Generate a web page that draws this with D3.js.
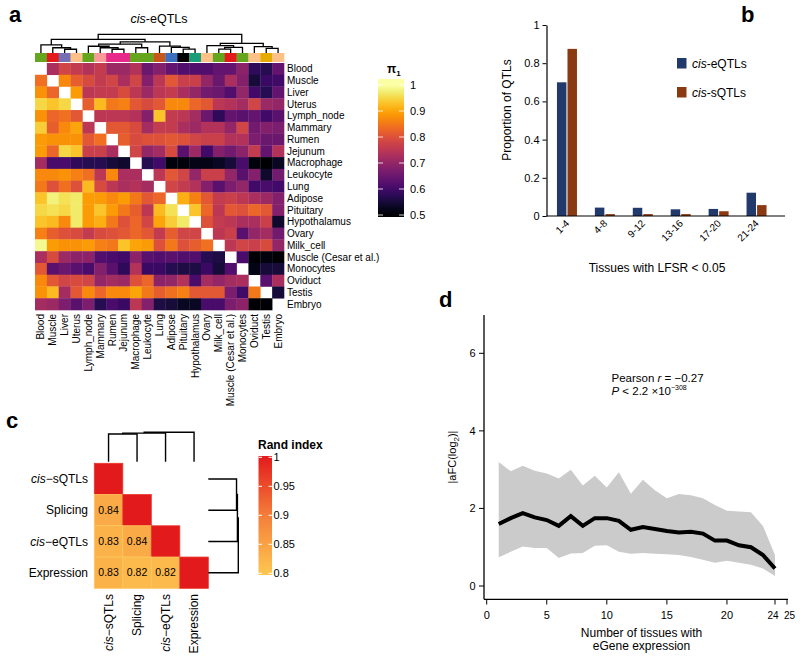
<!DOCTYPE html>
<html><head><meta charset="utf-8">
<script src="https://cdn.jsdelivr.net/npm/d3@7"></script>
<style>body{margin:0;background:#fff}svg{display:block;font-family:"Liberation Sans",Arial,sans-serif}</style>
</head><body>
<svg id="fig" width="800" height="657"></svg>
<script>
// ---------------- DATA ----------------
const tissues = ["Blood","Muscle","Liver","Uterus","Lymph_node","Mammary","Rumen","Jejunum","Macrophage","Leukocyte","Lung","Adipose","Pituitary","Hypothalamus","Ovary","Milk_cell","Muscle (Cesar et al.)","Monocytes","Oviduct","Testis","Embryo"];
const tissueColors = ["#66a61e","#e41a1c","#7570b3","#fdc086","#66a61e","#fb9a99","#e7298a","#e7298a","#66a61e","#66a61e","#c7561a","#3a70bf","#000000","#1b9e77","#fdc086","#66a61e","#e41a1c","#66a61e","#fdc086","#e6ab02","#fdc086"];
const pi1Ticks = [0.5,0.6,0.7,0.8,0.9,1];
const pi1 = [
 [null,.73,.78,.76,.74,.76,.71,.71,.74,.65,.68,.64,.62,.62,.62,.64,.64,.69,.58,.57,.64],
 [.84,null,.87,.82,.79,.76,.78,.73,.78,.68,.75,.81,.77,.77,.70,.65,.73,.68,.55,.59,.60],
 [.88,.83,null,.89,.75,.76,.76,.79,.75,.71,.75,.76,.73,.70,.66,.65,.62,.70,.60,.57,.64],
 [.95,.93,.95,null,.82,.92,.85,.86,.81,.79,.81,.87,.87,.83,.81,.75,.74,.72,.78,.71,.70],
 [.88,.83,.84,.81,null,.75,.75,.75,.74,.68,.93,.76,.75,.72,.65,.58,.64,.63,.64,.60,.63],
 [.94,.82,.87,.90,.75,null,.81,.81,.79,.72,.76,.76,.73,.71,.74,.74,.70,.78,.66,.68,.67],
 [.89,.88,.88,.88,.81,.84,null,.82,.79,.80,.80,.81,.80,.78,.77,.77,.74,.74,.67,.65,.65],
 [.89,.83,.95,.93,.77,.77,.73,null,.78,.70,.72,.79,.63,.71,.60,.68,.66,.69,.76,.64,.74],
 [.72,.61,.61,.58,.57,.57,.55,.54,null,.57,.60,.51,.51,.52,.52,.53,.55,.61,.51,.50,.53],
 [.87,.87,.88,.86,.84,.75,.87,.73,.73,null,.75,.81,.78,.70,.77,.77,.70,.63,.68,.54,.66],
 [.85,.80,.84,.80,.92,.79,.75,.73,.74,.72,null,.78,.76,.74,.68,.63,.67,.70,.60,.61,.60],
 [.93,.98,.96,.97,.89,.89,.87,.89,.85,.81,.83,null,.91,.86,.81,.76,.77,.75,.73,.71,.68],
 [.95,.96,.95,.97,.89,.93,.89,.85,.82,.75,.92,.96,null,.93,.83,.75,.81,.80,.83,.81,.68],
 [.93,.92,.87,.97,.89,.91,.85,.80,.83,.78,.90,.94,.97,null,.80,.76,.75,.73,.73,.77,.54],
 [.86,.82,.80,.79,.76,.79,.80,.81,.83,.81,.76,.82,.78,.78,null,.75,.77,.63,.70,.72,.66],
 [.99,.89,.88,.88,.89,.86,.85,.93,.90,.89,.80,.85,.80,.82,.84,null,.75,.78,.77,.79,.70],
 [.73,.79,.71,.69,.69,.62,.61,.60,.69,.63,.62,.63,.62,.62,.57,.56,null,.61,.50,.51,.50],
 [.81,.63,.65,.63,.61,.68,.63,.58,.74,.59,.59,.57,.56,.56,.59,.55,.62,null,.52,.55,.55],
 [.87,.81,.78,.79,.78,.70,.72,.71,.80,.83,.69,.70,.74,.61,.72,.70,.72,.73,null,.63,.73],
 [.88,.92,.72,.81,.87,.83,.87,.87,.90,.85,.82,.84,.86,.81,.81,.81,.67,.60,.85,null,.55],
 [.72,.71,.67,.63,.67,.57,.61,.59,.75,.68,.56,.55,.53,.53,.61,.61,.67,.69,.50,.50,null]
];
// clustering tree of panel a: [height, left, right], leaves = column index
const treeA = [1.0,
  [0.73, [0.43, 0, [0.28, 1, [0.2, 2, 3]]],
         [0.6, [0.47, [0.36, 4, [0.28, 5, [0.2, 6, 7]]], [0.28, 8, 9]],
               [0.37, 10, [0.3, 11, [0.21, 12, 13]]]]],
  [0.52, [0.39, 14, [0.3, [0.21, 15, 16], 17]], [0.34, 18, [0.25, 19, 20]]]];

const groupsB = ["1-4","4-8","9-12","13-16","17-20","21-24"];
const eqtlB = [0.70, 0.044, 0.043, 0.035, 0.037, 0.122];
const sqtlB = [0.875, 0.010, 0.010, 0.010, 0.025, 0.057];
const yTicksB = [0, 0.2, 0.4, 0.6, 0.8, 1];

const labelsC = ["cis\u2212sQTLs","Splicing","cis\u2212eQTLs","Expression"];
const randC = [[1],[0.84,1],[0.83,0.84,1],[0.83,0.82,0.82,1]];
const randTicks = [0.8,0.85,0.9,0.95,1];
const treeC = [0.17, [0.165, [0.16, 0, 1], 2], 3];

const nTissuesD = [1,2,3,4,5,6,7,8,9,10,11,12,13,14,15,16,17,18,19,20,21,22,23,24];
const meanD  = [1.60,1.75,1.88,1.77,1.70,1.55,1.80,1.55,1.75,1.75,1.68,1.45,1.52,1.47,1.42,1.38,1.40,1.35,1.17,1.17,1.05,1.00,0.80,0.45];
const upperD = [3.20,2.96,3.10,2.97,2.90,2.77,3.00,2.59,2.84,2.54,2.93,2.38,2.74,2.47,2.26,2.37,2.34,2.26,2.09,1.94,1.92,1.90,1.55,0.80];
const lowerD = [0.74,0.88,1.02,0.98,0.98,0.72,0.84,0.85,1.04,1.05,0.88,0.83,0.85,0.83,0.82,0.80,0.75,0.68,0.60,0.65,0.60,0.55,0.45,0.26];
const xTicksD = [0,5,10,15,20,24,25];
const yTicksD = [0,2,4,6];

// ---------------- HELPERS ----------------
const svg = d3.select("#fig");
function cisText(sel, s) {
  if (s.startsWith("cis")) {
    sel.append("tspan").attr("font-style","italic").text("cis");
    sel.append("tspan").text(s.slice(3));
  } else sel.text(s);
}
function drawTree(g, tree, pos, hs, orient, sw) {
  function rec(n) {
    if (typeof n === "number") return {p: pos(n), h: 0};
    const [h, a, b] = n;
    const A = rec(a), B = rec(b);
    const pts = [[A.p, hs(A.h)], [A.p, hs(h)], [B.p, hs(h)], [B.p, hs(B.h)]]
      .map(d => orient === "top" ? d : [d[1], d[0]]);
    g.append("path").attr("d", d3.line()(pts)).attr("fill","none")
      .attr("stroke","#000").attr("stroke-width", sw);
    return {p: (A.p + B.p) / 2, h};
  }
  rec(tree);
}
function panelLetter(t, x, y) {
  svg.append("text").attr("x",x).attr("y",y).attr("font-size",22).attr("font-weight","bold").text(t);
}

// ---------------- PANEL A ----------------
{
  const g = svg.append("g");
  const n = tissues.length;
  const x = d3.scaleBand().domain(d3.range(n)).range([35, 284]);
  const y = d3.scaleBand().domain(d3.range(n)).range([63, 310]);
  const color = d3.scaleSequential(d3.interpolateInferno).domain([0.5, 1]);

  const cells = [];
  pi1.forEach((row, i) => row.forEach((v, j) => { if (v !== null) cells.push({i, j, v}); }));
  g.selectAll("rect.cell").data(cells).join("rect")
    .attr("x", d => x(d.j)).attr("y", d => y(d.i))
    .attr("width", x.bandwidth() + 0.3).attr("height", y.bandwidth() + 0.3)
    .attr("fill", d => color(d.v));

  // annotation strip
  g.selectAll("rect.strip").data(tissueColors).join("rect")
    .attr("x", (d, j) => x(j)).attr("y", 53).attr("width", x.bandwidth() + 0.3).attr("height", 9)
    .attr("fill", d => d);

  // dendrogram
  const hs = d3.scaleLinear().domain([0, 1]).range([53, 34.3]);
  drawTree(g, treeA, j => x(j) + x.bandwidth() / 2, hs, "top", 1.3);

  // title
  const t = g.append("text").attr("x", 159).attr("y", 23).attr("text-anchor","middle").attr("font-size", 12.5);
  cisText(t, "cis-eQTLs");

  // row labels
  g.selectAll("text.row").data(tissues).join("text")
    .attr("x", 287).attr("y", (d, i) => y(i) + y.bandwidth() / 2).attr("dy", "0.35em")
    .attr("font-size", 10).text(d => d);
  // col labels
  g.selectAll("text.col").data(tissues).join("text")
    .attr("transform", (d, j) => `translate(${x(j) + x.bandwidth() / 2},314) rotate(-90)`)
    .attr("dy", "0.35em").attr("text-anchor", "end").attr("font-size", 10).text(d => d);

  // colour bar
  const cy = d3.scaleLinear().domain([0.5, 1]).range([215, 85]);
  const defs = svg.append("defs");
  const grad = defs.append("linearGradient").attr("id","gA").attr("x1",0).attr("x2",0).attr("y1",1).attr("y2",0);
  d3.range(0, 1.0001, 0.05).forEach(t => grad.append("stop").attr("offset", t).attr("stop-color", d3.interpolateInferno(t)));
  g.append("rect").attr("x", 378).attr("y", cy(1)).attr("width", 26).attr("height", cy(0.5) - cy(1)).attr("fill","url(#gA)");
  g.append("rect").attr("x", 378).attr("y", cy(1) - 6).attr("width", 26).attr("height", 6).attr("fill", d3.interpolateInferno(1));
  g.append("rect").attr("x", 378).attr("y", cy(0.5)).attr("width", 26).attr("height", 2).attr("fill", d3.interpolateInferno(0));
  pi1Ticks.forEach(v => {
    g.append("line").attr("x1",378).attr("x2",383).attr("y1",cy(v)).attr("y2",cy(v)).attr("stroke","#fff").attr("stroke-width",1).attr("opacity",0.8);
    g.append("line").attr("x1",399).attr("x2",404).attr("y1",cy(v)).attr("y2",cy(v)).attr("stroke","#fff").attr("stroke-width",1).attr("opacity",0.8);
    g.append("text").attr("x", 410).attr("y", cy(v)).attr("dy","0.35em").attr("font-size", 11).text(d3.format("~g")(v));
  });
  const pt = g.append("text").attr("x", 387).attr("y", 73).attr("font-size", 12).attr("font-weight","bold");
  pt.append("tspan").text("\u03c0");
  pt.append("tspan").attr("dy", 3).attr("font-size", 8).text("1");
  panelLetter("a", 9, 22);
}

// ---------------- PANEL B ----------------
{
  const g = svg.append("g");
  const x = d3.scaleBand().domain(groupsB).range([548, 775.5]);
  const xs = d3.scaleBand().domain(["e","s"]).range([-10, 10]).paddingInner(0.1);
  const y = d3.scaleLinear().domain([0, 1]).range([216, 25]);
  const rows = groupsB.map((gname, i) => ({g: gname, e: eqtlB[i], s: sqtlB[i]}));
  const grp = g.selectAll("g.grp").data(rows).join("g")
    .attr("transform", d => `translate(${x(d.g) + x.bandwidth() / 2},0)`);
  grp.append("rect").attr("x", xs("e")).attr("width", xs.bandwidth())
    .attr("y", d => y(d.e)).attr("height", d => y(0) - y(d.e)).attr("fill", "#213a6b");
  grp.append("rect").attr("x", xs("s")).attr("width", xs.bandwidth())
    .attr("y", d => y(d.s)).attr("height", d => y(0) - y(d.s)).attr("fill", "#8a3a10");

  const ya = g.append("g").attr("transform", "translate(546.5,0)")
    .call(d3.axisLeft(y).tickValues(yTicksB).tickSize(4).tickSizeOuter(0).tickFormat(d3.format("~g")));
  ya.selectAll("text").attr("font-size", 11).attr("font-family", "Liberation Sans, Arial, sans-serif");
  ya.select(".domain").attr("stroke-width", 1.2);
  g.append("line").attr("x1", 546.5).attr("x2", 785).attr("y1", 216).attr("y2", 216).attr("stroke", "#000").attr("stroke-width", 1.2);
  g.selectAll("text.xl").data(groupsB).join("text")
    .attr("transform", d => `translate(${x(d) + x.bandwidth() / 2 + 3},224) rotate(-45)`)
    .attr("text-anchor", "end").attr("font-size", 10).text(d => d);
  g.append("text").attr("x", 657).attr("y", 272).attr("text-anchor", "middle").attr("font-size", 12).text("Tissues with LFSR < 0.05");
  g.append("text").attr("transform", "translate(511,110) rotate(-90)").attr("text-anchor", "middle").attr("font-size", 12).text("Proportion of QTLs");

  // legend
  [["cis-eQTLs", "#213a6b", 58], ["cis-sQTLs", "#8a3a10", 87]].forEach(([lab, col, yy]) => {
    g.append("rect").attr("x", 677).attr("y", yy).attr("width", 9.5).attr("height", 10.5).attr("fill", col);
    const t = g.append("text").attr("x", 692).attr("y", yy + 5.5).attr("dy", "0.35em").attr("font-size", 12);
    cisText(t, lab);
  });
  panelLetter("b", 741, 22);
}

// ---------------- PANEL C ----------------
{
  const g = svg.append("g");
  const x = d3.scaleBand().domain(d3.range(4)).range([94.3, 208.3]);
  const y = d3.scaleBand().domain(d3.range(4)).range([463.3, 588.3]);
  const color = d3.scaleLinear().domain([0.8, 0.9, 1]).range(["#fec850", "#f47e3a", "#e31a1c"]).clamp(true);
  const cells = [];
  randC.forEach((row, i) => row.forEach((v, j) => cells.push({i, j, v})));
  g.selectAll("rect.c").data(cells).join("rect")
    .attr("x", d => x(d.j)).attr("y", d => y(d.i)).attr("width", x.bandwidth()).attr("height", y.bandwidth())
    .attr("fill", d => color(d.v)).attr("stroke", d => d.v < 1 ? "#fcc75c" : "#e8362a").attr("stroke-width", 0.8);
  g.selectAll("text.v").data(cells.filter(d => d.i !== d.j)).join("text")
    .attr("x", d => x(d.j) + x.bandwidth() / 2).attr("y", d => y(d.i) + y.bandwidth() / 2).attr("dy", "0.35em")
    .attr("text-anchor", "middle").attr("font-size", 10.5).text(d => d3.format(".2f")(d.v));

  labelsC.forEach((lab, i) => {
    const t = g.append("text").attr("x", 88).attr("y", y(i) + y.bandwidth() / 2).attr("dy", "0.35em")
      .attr("text-anchor", "end").attr("font-size", 12);
    cisText(t, lab);
    const c = g.append("text").attr("transform", `translate(${x(i) + x.bandwidth() / 2},594) rotate(-90)`)
      .attr("dy", "0.35em").attr("text-anchor", "end").attr("font-size", 12);
    cisText(c, lab);
  });

  const hsTop = d3.scaleLinear().domain([0, 0.17]).range([461.7, 432.3]);
  drawTree(g, treeC, i => x(i) + x.bandwidth() / 2, hsTop, "top", 1.4);
  const hsRight = d3.scaleLinear().domain([0, 0.17]).range([208.3, 238.3]);
  drawTree(g, treeC, i => y(i) + y.bandwidth() / 2, hsRight, "right", 1.4);

  // colour bar
  const cy = d3.scaleLinear().domain([0.8, 1]).range([573.3, 457.3]);
  const grad = svg.select("defs").append("linearGradient").attr("id","gC").attr("x1",0).attr("x2",0).attr("y1",1).attr("y2",0);
  d3.range(0, 1.0001, 0.1).forEach(t => grad.append("stop").attr("offset", t).attr("stop-color", color(0.8 + 0.2 * t)));
  g.append("rect").attr("x", 258.5).attr("y", 456).attr("width", 13.5).attr("height", 119).attr("fill", "url(#gC)");
  randTicks.forEach(v => {
    g.append("line").attr("x1",258.5).attr("x2",262).attr("y1",cy(v)).attr("y2",cy(v)).attr("stroke","#fff").attr("stroke-width",1);
    g.append("line").attr("x1",268.5).attr("x2",272).attr("y1",cy(v)).attr("y2",cy(v)).attr("stroke","#fff").attr("stroke-width",1);
    g.append("text").attr("x", 273.5).attr("y", cy(v)).attr("dy","0.35em").attr("font-size", 11).text(d3.format("~g")(v));
  });
  g.append("text").attr("x", 258).attr("y", 449).attr("font-size", 12).attr("font-weight", "bold").text("Rand index");
  panelLetter("c", 6, 428);
}

// ---------------- PANEL D ----------------
{
  const g = svg.append("g");
  const x = d3.scaleLinear().domain([0, 25]).range([486.7, 787]);
  const y = d3.scaleLinear().domain([0, 6]).range([586, 353.3]);
  const rows = nTissuesD.map((n, i) => ({n, m: meanD[i], u: upperD[i], l: lowerD[i]}));
  g.append("path").datum(rows)
    .attr("d", d3.area().x(d => x(d.n)).y0(d => y(d.l)).y1(d => y(d.u)))
    .attr("fill", "#cbcbcb");
  g.append("path").datum(rows)
    .attr("d", d3.line().x(d => x(d.n)).y(d => y(d.m)))
    .attr("fill", "none").attr("stroke", "#000").attr("stroke-width", 4).attr("stroke-linejoin", "miter");

  // axes (L-shaped frame)
  g.append("line").attr("x1", 484).attr("x2", 484).attr("y1", 315).attr("y2", 599.3).attr("stroke", "#000").attr("stroke-width", 1.3);
  g.append("line").attr("x1", 484).attr("x2", 788).attr("y1", 599.3).attr("y2", 599.3).attr("stroke", "#000").attr("stroke-width", 1.3);
  yTicksD.forEach(v => {
    g.append("line").attr("x1", 479).attr("x2", 484).attr("y1", y(v)).attr("y2", y(v)).attr("stroke", "#000");
    g.append("text").attr("x", 475.5).attr("y", y(v)).attr("dy", "0.35em").attr("text-anchor", "end").attr("font-size", 11).text(v);
  });
  const nudge = {24: -2, 25: 2.5};
  xTicksD.forEach(v => {
    g.append("line").attr("x1", x(v)).attr("x2", x(v)).attr("y1", 599.3).attr("y2", 604.5).attr("stroke", "#000");
    g.append("text").attr("x", x(v) + (nudge[v] || 0)).attr("y", 619).attr("text-anchor", "middle")
      .attr("font-size", v >= 24 ? 10 : 11).text(v);
  });
  g.append("text").attr("x", 641.5).attr("y", 637).attr("text-anchor", "middle").attr("font-size", 12).text("Number of tissues with");
  g.append("text").attr("x", 641.5).attr("y", 650).attr("text-anchor", "middle").attr("font-size", 12).text("eGene expression");
  const yl = g.append("text").attr("transform", "translate(456,457) rotate(-90)").attr("text-anchor", "middle").attr("font-size", 11);
  yl.append("tspan").text("|aFC(log");
  yl.append("tspan").attr("dy", 3).attr("font-size", 8).text("2");
  yl.append("tspan").attr("dy", -3).text(")|");

  const a1 = g.append("text").attr("x", 611.5).attr("y", 382).attr("font-size", 11.5);
  a1.append("tspan").text("Pearson ");
  a1.append("tspan").attr("font-style", "italic").text("r");
  a1.append("tspan").text(" = \u22120.27");
  const a2 = g.append("text").attr("x", 611.5).attr("y", 395).attr("font-size", 11.5);
  a2.append("tspan").attr("font-style", "italic").text("P");
  a2.append("tspan").text(" < 2.2 \u00d710");
  a2.append("tspan").attr("dy", -5).attr("font-size", 7).text("\u2212308");
  panelLetter("d", 439, 307);
}
</script>
</body></html>
